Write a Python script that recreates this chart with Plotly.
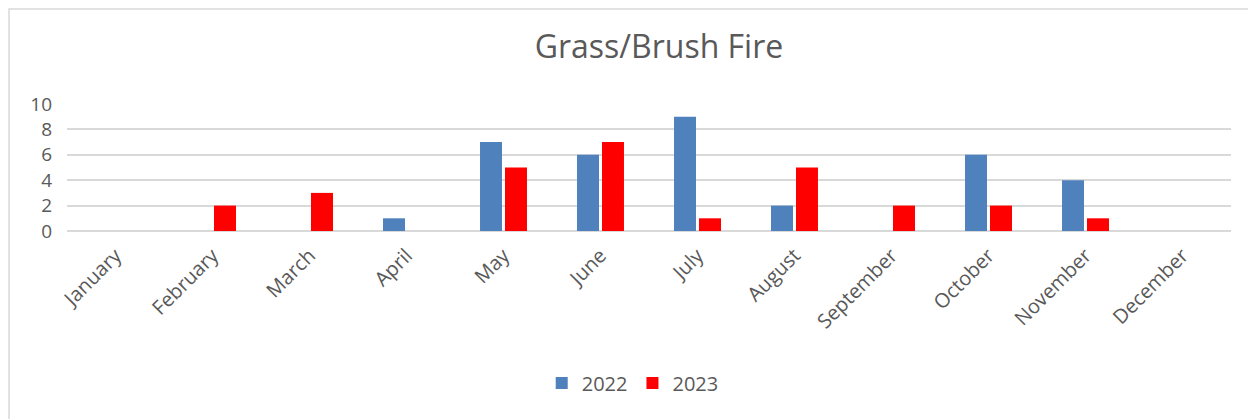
import plotly.graph_objects as go

months = ["January", "February", "March", "April", "May", "June", "July",
          "August", "September", "October", "November", "December"]
fires_2022 = [0, 0, 0, 1, 7, 6, 9, 2, 0, 6, 4, 0]
fires_2023 = [0, 2, 3, 0, 5, 7, 1, 5, 2, 2, 1, 0]

gray = "#595959"
font_family = "Open Sans"

fig = go.Figure()
fig.add_trace(go.Bar(x=months, y=fires_2022, name="2022",
                     marker=dict(color="#4F81BD", line=dict(width=0))))
fig.add_trace(go.Bar(x=months, y=fires_2023, name="2023",
                     marker=dict(color="#FF0000", line=dict(width=0))))

# outer chart border (like the excel chart area)
fig.add_shape(type="rect", xref="paper", yref="paper",
              x0=-0.0498, x1=1.05, y0=-2.0, y1=1.748,
              line=dict(color="#D9D9D9", width=1.5), fillcolor="rgba(0,0,0,0)")

# page body has an 8px margin, so the figure is a bit smaller than the window
fig.update_layout(
    width=1248, height=411,
    margin=dict(l=59, r=25, t=96, b=188),
    paper_bgcolor="white", plot_bgcolor="white",
    font=dict(family=font_family, color=gray, size=16),
    title=dict(text="Grass/Brush Fire", x=0.5216, xanchor="center",
               y=0.905, yanchor="middle",
               font=dict(size=32, color=gray, family=font_family)),
    barmode="group", bargap=0.485, bargroupgap=0.12,
    legend=dict(orientation="h", x=0.486, xanchor="center",
                y=-1.197, yanchor="middle", font=dict(size=20, color=gray),
                itemwidth=30),
    xaxis=dict(tickangle=-45, showgrid=False, showline=False, ticks="",
               tickfont=dict(size=20, color=gray), ticklabelstandoff=8),
    yaxis=dict(range=[0, 10], dtick=2, showgrid=True, gridcolor="#D9D9D9",
               gridwidth=1.5, zeroline=True, zerolinecolor="#D9D9D9",
               zerolinewidth=1.5, showline=False, ticks="",
               tickfont=dict(size=19, color=gray), ticklabelstandoff=14),
)

fig.write_html("out.html")
